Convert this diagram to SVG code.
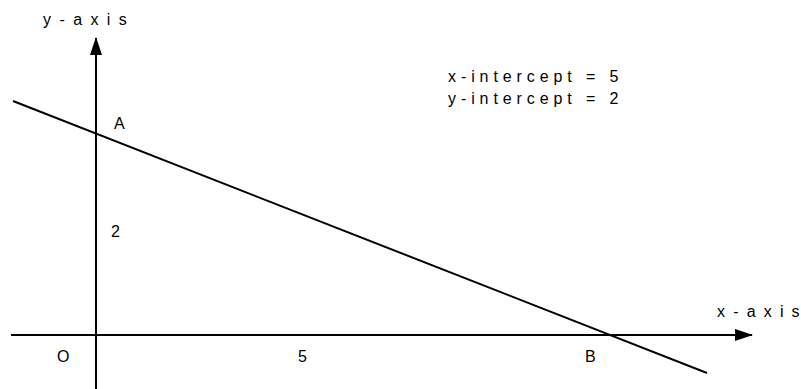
<svg xmlns="http://www.w3.org/2000/svg" width="801" height="389" viewBox="0 0 801 389">
<style>
text{font-family:"Liberation Sans",Arial,sans-serif;fill:#000;}
.lbl{font-size:16px;}
.ax{font-size:16px;letter-spacing:8.4px;}
.axx{font-size:16px;}
.info{font-size:16px;letter-spacing:4.9px;}
.ln{stroke:#000;stroke-width:2;fill:none;}
</style>
<defs>
<marker id="arr" markerWidth="18" markerHeight="12" refX="17" refY="6" orient="auto" markerUnits="userSpaceOnUse">
<path d="M0,0 L18,6 L0,12 Z" fill="#000"/>
</marker>
</defs>
<rect width="801" height="389" fill="#fff"/>
<g id="connectors">
<line id="y-axis-line" class="ln" x1="96" y1="389" x2="96" y2="38" marker-end="url(#arr)"/>
<line id="x-axis-line" class="ln" x1="11" y1="335" x2="752" y2="335" marker-end="url(#arr)"/>
<line id="graph-line" class="ln" x1="13" y1="101" x2="707" y2="373"/>
</g>
<g id="y-axis-label"><text class="ax" x="43" y="25">y-axis</text></g>
<g id="x-axis-label"><text class="axx" x="717 733.2 746.7 763.8 780 791.6" y="317">x-axis</text></g>
<g id="info"><text class="info" x="448" y="82">x-intercept = 5</text><text class="info" x="448" y="104">y-intercept = 2</text></g>
<g id="A"><text class="lbl" x="114" y="129">A</text></g>
<g id="two"><text class="lbl" x="111" y="237">2</text></g>
<g id="O"><text class="lbl" x="57" y="362">O</text></g>
<g id="five"><text class="lbl" x="298" y="362">5</text></g>
<g id="B"><text class="lbl" x="585" y="362">B</text></g>
</svg>
